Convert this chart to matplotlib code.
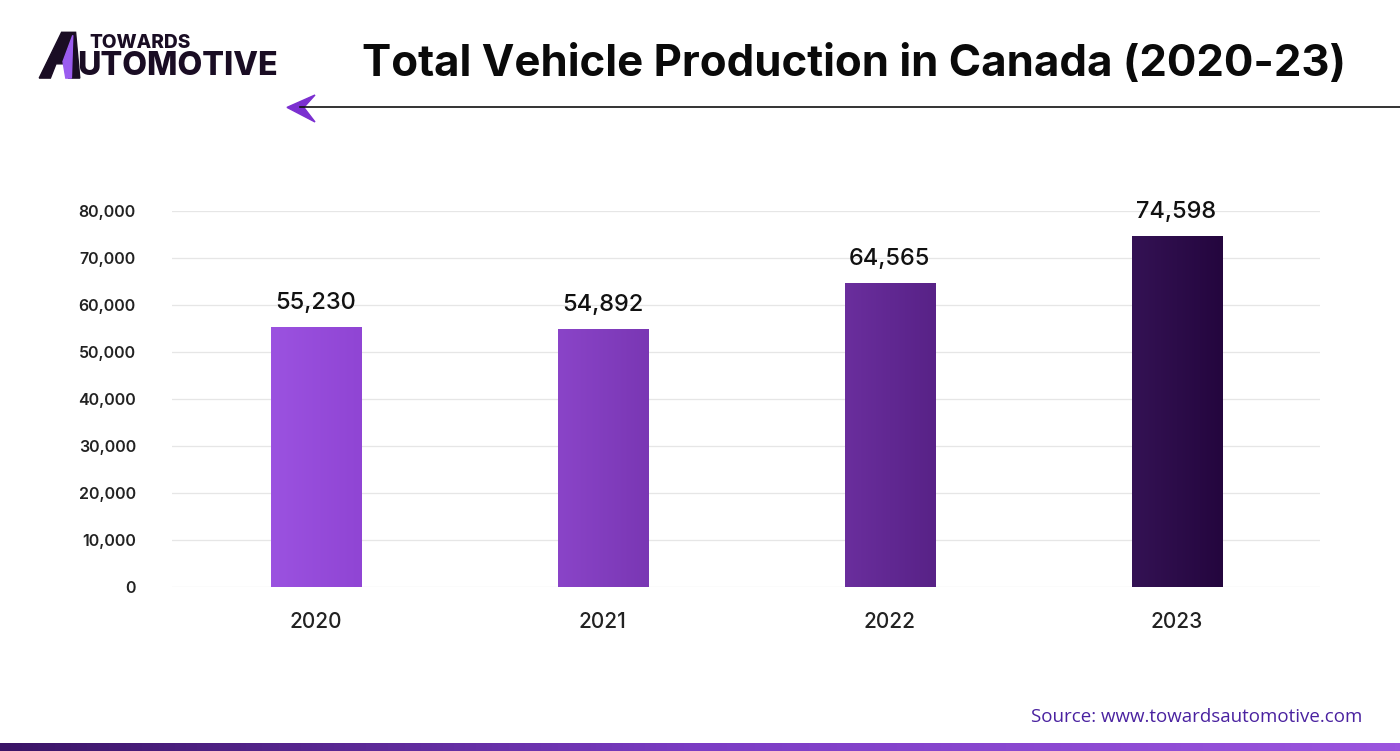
import numpy as np
import matplotlib.pyplot as plt
from matplotlib.patches import Polygon
from matplotlib.colors import LinearSegmentedColormap

years = ["2020", "2021", "2022", "2023"]
production = [55230, 54892, 64565, 74598]
y_ticks = [0, 10000, 20000, 30000, 40000, 50000, 60000, 70000, 80000]
bar_colors = [("#9b52e0", "#9045d4"), ("#8a44c8", "#7a37b4"),
              ("#6a2e9d", "#582287"), ("#341254", "#24063e")]

plt.rcParams['font.family'] = ['Inter', 'DejaVu Sans']

fig = plt.figure(figsize=(14, 7.51), dpi=100)
ax = fig.add_axes([0.1229, 0.2184, 0.8200, 0.5006])

x = np.arange(len(years))
width = 0.314
bars = ax.bar(x, production, width=width, color="none", zorder=2)

# horizontal gradient fill for each bar
for b, (c1, c2) in zip(bars, bar_colors):
    cmap = LinearSegmentedColormap.from_list("g", [c1, c2])
    grad = np.linspace(0, 1, 64).reshape(1, -1)
    x0, y0 = b.get_x(), b.get_y()
    ax.imshow(grad, cmap=cmap, aspect="auto", zorder=2,
              extent=[x0, x0 + b.get_width(), y0, y0 + b.get_height()])

for xi, v in zip(x, production):
    ax.text(xi, v + 2800, f"{v:,}", ha="center", va="bottom",
            fontsize=17, color="#111111", fontweight="medium", clip_on=False)

ax.set_xlim(-0.5, 3.5)
ax.set_ylim(0, 80000)
ax.set_xticks(x)
ax.set_xticklabels(years, fontsize=15, color="#222222", fontweight="medium")
ax.set_yticks(y_ticks)
ax.set_yticklabels([f"{t:,}" for t in y_ticks], fontsize=11.5, color="#222222",
                   fontweight="semibold")
ax.tick_params(axis="both", length=0)
ax.tick_params(axis="x", pad=18)
ax.tick_params(axis="y", pad=26)
ax.grid(axis="y", color="#e6e6e6", linewidth=0.9, zorder=0)
ax.set_axisbelow(True)
for s in ax.spines.values():
    s.set_visible(False)

# title
fig.text(0.610, 0.914, "Total Vehicle Production in Canada (2020-23)",
         ha="center", va="center", fontsize=31.5, fontweight="bold", color="#0a0a0a")

# arrow line under title
fig.add_artist(plt.Line2D([0.214, 1.0], [0.857, 0.857], color="#111111",
                          linewidth=1.2, transform=fig.transFigure))
fig.add_artist(Polygon([[0.205, 0.857], [0.225, 0.8735], [0.217, 0.857], [0.225, 0.8376]],
                       closed=True, color="#7b2fd0", transform=fig.transFigure))

# logo
fig.text(0.064, 0.943, "TOWARDS", fontsize=13.7, fontweight="heavy",
         color="#1a0d24", va="center", ha="left")
fig.text(0.055, 0.911, "UTOMOTIVE", fontsize=23.2, fontweight="heavy",
         color="#1a0d24", va="center", ha="left")
fig.add_artist(Polygon([[0.028, 0.896], [0.044, 0.957], [0.054, 0.957], [0.057, 0.896],
                        [0.049, 0.896], [0.048, 0.915], [0.040, 0.915], [0.036, 0.896]],
                       closed=True, color="#1a0d24", transform=fig.transFigure))
fig.add_artist(Polygon([[0.045, 0.918], [0.052, 0.953], [0.051, 0.896], [0.047, 0.896]],
                       closed=True, color="#9b5cf0", transform=fig.transFigure))

# source
fig.text(0.973, 0.045, "Source: www.towardsautomotive.com", ha="right", va="center",
         fontsize=13.5, color="#4a22a0", family=["Open Sans", "DejaVu Sans"])

# bottom gradient strip
strip = fig.add_axes([0, 0, 1, 0.011])
strip.imshow(np.linspace(0, 1, 256).reshape(1, -1), aspect="auto",
             cmap=LinearSegmentedColormap.from_list("s", ["#3a1466", "#7b3cc4", "#9b55de"]))
strip.axis("off")

fig.savefig("out.png", dpi=100)
